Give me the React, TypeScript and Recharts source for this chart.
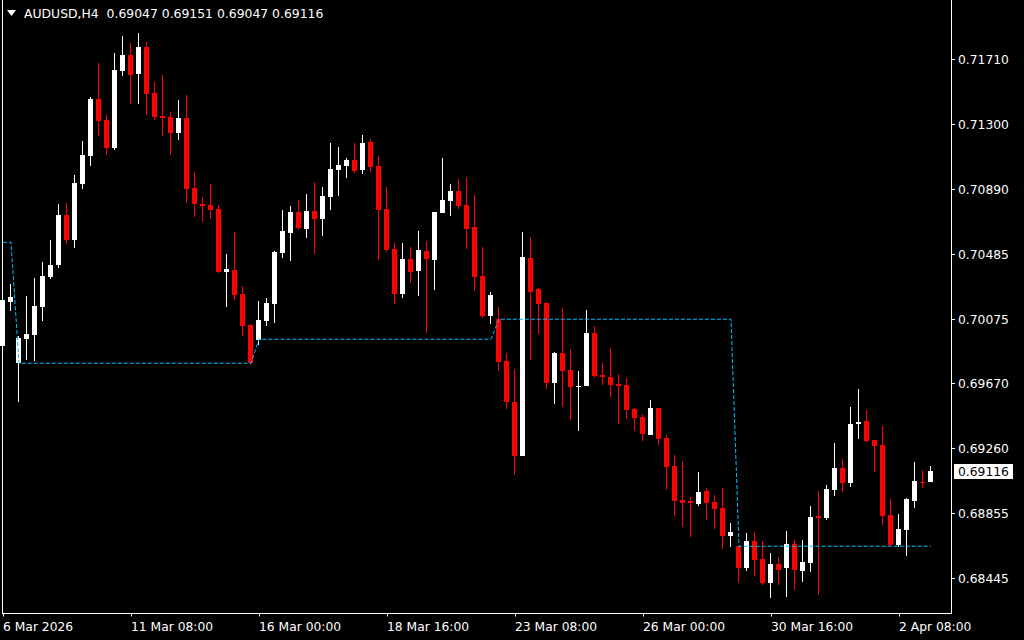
import React from "react";
import { ComposedChart, Bar, Line, XAxis, YAxis } from "recharts";

const symbol = "AUDUSD,H4";

// H4 candles, 6 Mar 16:00 .. 2 Apr 2026
const opens = [
  0.69905, 0.70183, 0.69796, 0.6995, 0.69974, 0.70152, 0.7034, 0.70414, 0.70729, 0.70571,
  0.70924, 0.711, 0.71458, 0.71326, 0.7115, 0.71635, 0.71735, 0.71616, 0.71786, 0.71496,
  0.71351, 0.71345, 0.71245, 0.71339, 0.70899, 0.70798, 0.70792, 0.70766, 0.7037, 0.70383,
  0.70232, 0.70037, 0.69942, 0.70062, 0.70169, 0.7049, 0.70615, 0.70748, 0.70641, 0.70754,
  0.70704, 0.70842, 0.71012, 0.71037, 0.71075, 0.71012, 0.71188, 0.71037, 0.70766, 0.70515,
  0.70232, 0.70452, 0.70376, 0.70502, 0.70446, 0.70741, 0.70817, 0.7088, 0.70792, 0.70653,
  0.70345, 0.70093, 0.70074, 0.6981, 0.69552, 0.69213, 0.70458, 0.70263, 0.70175, 0.69672,
  0.69861, 0.69754, 0.69653, 0.69653, 0.69986, 0.69722, 0.6971, 0.69666, 0.69659, 0.69508,
  0.69458, 0.69345, 0.69515, 0.69326, 0.6915, 0.68936, 0.68929, 0.68911, 0.68992, 0.68923,
  0.68885, 0.68709, 0.68646, 0.68508, 0.68678, 0.68565, 0.68414, 0.68533, 0.68508, 0.68659,
  0.68489, 0.68539, 0.68835, 0.68823, 0.68999, 0.69137, 0.69043, 0.69414, 0.69433, 0.69313,
  0.69282, 0.68841, 0.68653, 0.68747, 0.68929, 0.69049, 0.69047,
];
const highs = [
  0.70307, 0.70293, 0.69967, 0.70219, 0.70332, 0.70433, 0.70571, 0.70798, 0.70806, 0.7098,
  0.71194, 0.71471, 0.71685, 0.71358, 0.71748, 0.71855, 0.71811, 0.71874, 0.71817, 0.71565,
  0.71609, 0.71377, 0.71452, 0.71484, 0.70999, 0.70842, 0.70924, 0.70792, 0.70483, 0.70622,
  0.70282, 0.70043, 0.70188, 0.70207, 0.70502, 0.7076, 0.70785, 0.70823, 0.70861, 0.70936,
  0.70905, 0.71182, 0.71156, 0.71087, 0.71182, 0.71232, 0.71207, 0.711, 0.70905, 0.70553,
  0.70553, 0.70527, 0.70628, 0.70565, 0.70748, 0.71087, 0.70924, 0.70955, 0.70968, 0.70855,
  0.70527, 0.70244, 0.7015, 0.69861, 0.6976, 0.70622, 0.7059, 0.70269, 0.70181, 0.69867,
  0.70144, 0.69886, 0.69747, 0.70131, 0.7003, 0.69798, 0.69892, 0.69728, 0.69703, 0.69515,
  0.69477, 0.69565, 0.69515, 0.69345, 0.69219, 0.69181, 0.68955, 0.69112, 0.69011, 0.68967,
  0.69011, 0.68791, 0.68646, 0.68728, 0.68734, 0.68678, 0.68602, 0.68577, 0.68741, 0.68684,
  0.68684, 0.68898, 0.68992, 0.6903, 0.69294, 0.69194, 0.69521, 0.69634, 0.69502, 0.69313,
  0.69401, 0.68942, 0.68848, 0.68948, 0.69175, 0.69125, 0.69151,
];
const lows = [
  0.69898, 0.70127, 0.69554, 0.69817, 0.69812, 0.70064, 0.70328, 0.70395, 0.70546, 0.70521,
  0.70892, 0.71037, 0.71226, 0.71106, 0.71138, 0.71603, 0.71427, 0.71427, 0.71358, 0.71326,
  0.71226, 0.71106, 0.71201, 0.70804, 0.70716, 0.70685, 0.70704, 0.70364, 0.7015, 0.70194,
  0.69967, 0.69785, 0.69911, 0.7003, 0.70049, 0.70458, 0.70439, 0.70634, 0.70584, 0.70483,
  0.70597, 0.7076, 0.70848, 0.70962, 0.70993, 0.70987, 0.70999, 0.70446, 0.70496, 0.70169,
  0.70207, 0.70301, 0.70219, 0.69986, 0.70257, 0.70741, 0.70722, 0.70766, 0.70515, 0.70251,
  0.70081, 0.70043, 0.69747, 0.69508, 0.69093, 0.69213, 0.69817, 0.6998, 0.69634, 0.6954,
  0.69521, 0.69439, 0.6937, 0.69653, 0.69703, 0.69659, 0.69584, 0.69414, 0.69445, 0.6937,
  0.69307, 0.69345, 0.69282, 0.68999, 0.68835, 0.68766, 0.68703, 0.68898, 0.6881, 0.68753,
  0.68628, 0.6864, 0.68414, 0.68489, 0.68458, 0.68401, 0.68319, 0.68401, 0.68326, 0.6837,
  0.6842, 0.68483, 0.68338, 0.6881, 0.68961, 0.68986, 0.69018, 0.6932, 0.69301, 0.69112,
  0.68778, 0.68646, 0.6864, 0.68583, 0.68885, 0.69011, 0.69047,
];
const closes = [
  0.70194, 0.70215, 0.69953, 0.6998, 0.70156, 0.70345, 0.70414, 0.70729, 0.70571, 0.7093,
  0.71106, 0.71458, 0.7132, 0.7115, 0.71641, 0.71735, 0.71609, 0.71786, 0.7149, 0.71345,
  0.71339, 0.71245, 0.71339, 0.70892, 0.70798, 0.70785, 0.7076, 0.7037, 0.70389, 0.70225,
  0.7003, 0.69798, 0.70068, 0.70175, 0.70496, 0.70628, 0.70748, 0.70647, 0.70754, 0.70704,
  0.70848, 0.71018, 0.71043, 0.71075, 0.71006, 0.71182, 0.71031, 0.7076, 0.70508, 0.70232,
  0.70452, 0.7037, 0.70508, 0.70452, 0.70748, 0.70823, 0.7088, 0.70785, 0.70641, 0.70339,
  0.70093, 0.70225, 0.69804, 0.69552, 0.69213, 0.70465, 0.70244, 0.70169, 0.69672, 0.69861,
  0.69747, 0.69647, 0.69653, 0.69986, 0.69716, 0.6971, 0.69659, 0.69653, 0.69502, 0.69452,
  0.69351, 0.69515, 0.6932, 0.69143, 0.68929, 0.68917, 0.68917, 0.68986, 0.68917, 0.68879,
  0.68709, 0.68734, 0.68508, 0.68678, 0.68558, 0.68414, 0.68533, 0.68495, 0.68659, 0.68495,
  0.68546, 0.68829, 0.68823, 0.69005, 0.69137, 0.69043, 0.69414, 0.69426, 0.69307, 0.69276,
  0.68835, 0.68653, 0.68753, 0.68942, 0.69055, 0.69043, 0.69116,
];

// weekly level line: first candle of each week and its value
const levelStarts = [0, 2, 32, 62, 92];
const levelValues = [0.70557, 0.69796, 0.69947, 0.70073, 0.68645];

const xTickIndex = [0, 16, 32, 48, 64, 80, 96, 112];
const xTickLabels = [
  "6 Mar 2026",
  "11 Mar 08:00",
  "16 Mar 00:00",
  "18 Mar 16:00",
  "23 Mar 08:00",
  "26 Mar 00:00",
  "30 Mar 16:00",
  "2 Apr 08:00",
];
const yTicks = [0.68445, 0.68855, 0.6926, 0.6967, 0.70075, 0.70485, 0.7089, 0.713, 0.7171];

const W = 1024;
const H = 640;
const PLOT_RIGHT = 951;
const PLOT_BOTTOM = 613;
const FONT = "Tahoma, 'DejaVu Sans', sans-serif";
const LEVEL_COLOR = "#00bfff";

const last = opens.length - 1;
const lastClose = closes[last];

function levelAt(i: number): number {
  let v = levelValues[0];
  levelStarts.forEach((s, j) => {
    if (i >= s) v = levelValues[j];
  });
  return v;
}

const data = opens.map((o, i) => ({
  i,
  open: o,
  high: highs[i],
  low: lows[i],
  close: closes[i],
  level: levelAt(i),
}));

function Candle(props: any) {
  const { x, y, width, height, payload } = props;
  const { open, high, low, close } = payload;
  const color = close >= open ? "#ffffff" : "#ff0000";
  const cx = Math.floor(x + width / 2);
  const top = Math.min(y, y + height);
  const k = Math.abs(height) / (high - low);
  const py = (v: number) => top + (high - v) * k;
  const wTop = Math.round(py(high));
  const wBot = Math.round(py(low));
  const bTop = Math.round(py(Math.max(open, close)));
  const bBot = Math.round(py(Math.min(open, close)));
  return (
    <g shapeRendering="crispEdges">
      <rect x={cx} y={wTop} width={1} height={Math.max(1, wBot - wTop)} fill={color} />
      <rect x={cx - 2} y={bTop} width={5} height={Math.max(1, bBot - bTop)} fill={color} />
    </g>
  );
}

function TimeTick(props: any) {
  const { payload } = props;
  const x = Math.round(payload.coordinate);
  const idx = xTickIndex.indexOf(payload.value);
  return (
    <g>
      <line x1={x + 0.5} x2={x + 0.5} y1={PLOT_BOTTOM} y2={PLOT_BOTTOM + 3.5} stroke="#ffffff" />
      <text x={x} y={PLOT_BOTTOM + 18} fill="#ffffff" fontSize={12.3} fontFamily={FONT}>
        {idx >= 0 ? xTickLabels[idx] : ""}
      </text>
    </g>
  );
}

function PriceTick(props: any) {
  const { payload } = props;
  const yy = Math.round(payload.coordinate);
  const v: number = payload.value;
  if (v === lastClose) {
    return (
      <g>
        <rect x={954} y={yy - 7} width={59} height={15} fill="#ffffff" />
        <text x={958} y={yy + 5} fill="#000000" fontSize={12.3} fontFamily={FONT}>
          {v.toFixed(5)}
        </text>
      </g>
    );
  }
  return (
    <g>
      <line x1={PLOT_RIGHT} x2={PLOT_RIGHT + 4} y1={yy + 0.5} y2={yy + 0.5} stroke="#ffffff" />
      <text x={958} y={yy + 4.5} fill="#ffffff" fontSize={12.3} fontFamily={FONT}>
        {v.toFixed(5)}
      </text>
    </g>
  );
}

export default function App() {
  const title = `${symbol}  ${opens[last].toFixed(5)} ${highs[last].toFixed(5)} ${lows[last].toFixed(5)} ${closes[last].toFixed(5)}`;
  return (
    <div
      style={{
        position: "absolute",
        left: 0,
        top: 0,
        width: W,
        height: H,
        background: "#000000",
        overflow: "hidden",
      }}
    >
      <ComposedChart
        width={W}
        height={H}
        data={data}
        margin={{ top: 0, right: 0, left: -1, bottom: 0 }}
      >
        <XAxis
          dataKey="i"
          type="category"
          ticks={xTickIndex}
          interval={0}
          height={H - PLOT_BOTTOM}
          padding={{ left: 0, right: 16 }}
          axisLine={false}
          tickLine={false}
          tick={<TimeTick />}
        />
        <YAxis
          orientation="right"
          type="number"
          domain={[0.68225, 0.72081]}
          allowDataOverflow
          ticks={[...yTicks, lastClose]}
          interval={0}
          width={W - PLOT_RIGHT}
          axisLine={false}
          tickLine={false}
          tick={<PriceTick />}
        />
        <Bar
          dataKey={(d: any) => [d.low, d.high]}
          shape={<Candle />}
          isAnimationActive={false}
        />
        <Line
          type="linear"
          dataKey="level"
          stroke={LEVEL_COLOR}
          strokeWidth={1}
          strokeDasharray="4 2"
          dot={false}
          activeDot={false}
          isAnimationActive={false}
        />
      </ComposedChart>
      <svg
        width={W}
        height={H}
        style={{ position: "absolute", left: 0, top: 0, pointerEvents: "none" }}
      >
        <g stroke="#ffffff" strokeWidth={1} shapeRendering="crispEdges">
          <line x1={2.5} x2={2.5} y1={0} y2={PLOT_BOTTOM + 0.5} />
          <line x1={PLOT_RIGHT + 0.5} x2={PLOT_RIGHT + 0.5} y1={0} y2={PLOT_BOTTOM + 0.5} />
          <line x1={2} x2={PLOT_RIGHT + 1} y1={PLOT_BOTTOM + 0.5} y2={PLOT_BOTTOM + 0.5} />
        </g>
        <polygon points="7,10 16,10 11.5,16" fill="#ffffff" />
        <text
          x={24}
          y={18}
          fill="#ffffff"
          fontSize={12.4}
          fontFamily={FONT}
          style={{ whiteSpace: "pre" }}
        >
          {title}
        </text>
      </svg>
    </div>
  );
}
